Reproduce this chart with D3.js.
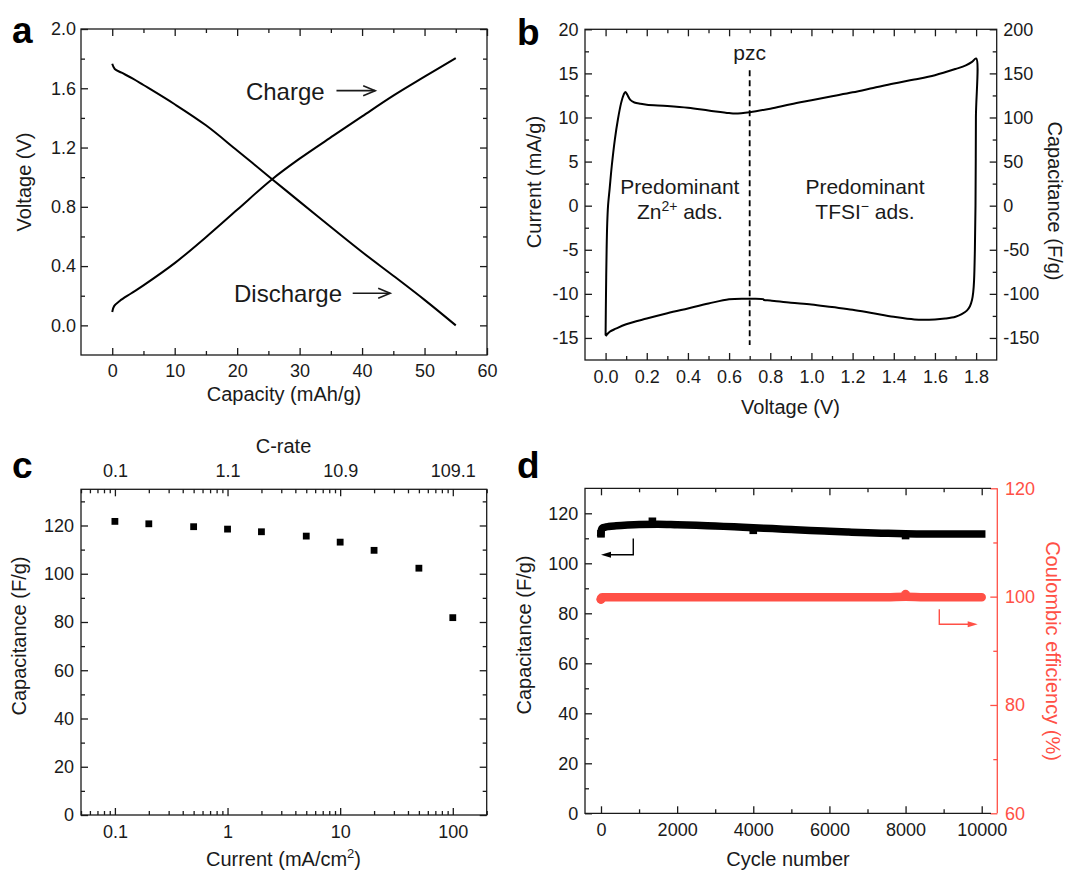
<!DOCTYPE html>
<html>
<head>
<meta charset="utf-8">
<script src="https://cdn.jsdelivr.net/npm/d3@7"></script>
<style>
  body { margin: 0; background: #fff; }
</style>
</head>
<body>
<svg id="fig" width="1065" height="870"></svg>
<script>
// ---- panel a : charge / discharge profile
const chargeCap = [0, 0.3, 1.2, 3, 5, 10, 15, 20, 25.5, 30, 35.4, 40, 45, 50, 55]
const chargeV = [0.09, 0.13, 0.165, 0.215, 0.27, 0.42, 0.595, 0.78, 0.983, 1.125, 1.28, 1.41, 1.55, 1.678, 1.804]
const dischargeCap = [0, 0.4, 1.5, 3.3, 5, 10, 15, 20, 25.5, 30, 35.4, 40, 45, 50, 55]
const dischargeV = [1.765, 1.73, 1.705, 1.665, 1.622, 1.492, 1.35, 1.18, 0.99, 0.835, 0.65, 0.495, 0.335, 0.172, 0.0]

// ---- panel b : cyclic voltammogram (anodic sweep then cathodic sweep)
const cvUpV = [0.000, 0.002, 0.005, 0.008, 0.012, 0.02, 0.03, 0.045, 0.06, 0.075, 0.088, 0.096, 0.105, 0.12, 0.14, 0.17, 0.2, 0.3, 0.4, 0.5, 0.6, 0.63, 0.7, 0.8, 0.9, 1.0, 1.1, 1.2, 1.3, 1.4, 1.5, 1.6, 1.7, 1.75, 1.78, 1.8]
const cvUpI = [-14.7, -10, -5, -2, 0, 2, 4.5, 7.5, 9.8, 11.6, 12.6, 12.9, 12.6, 12.0, 11.7, 11.55, 11.45, 11.3, 11.1, 10.8, 10.5, 10.45, 10.6, 11.0, 11.5, 11.95, 12.4, 12.85, 13.35, 13.85, 14.3, 14.8, 15.5, 15.9, 16.3, 16.7]
const cvDownV = [1.8, 1.799, 1.797, 1.794, 1.79, 1.786, 1.78, 1.77, 1.755, 1.73, 1.7, 1.65, 1.6, 1.5, 1.4, 1.3, 1.2, 1.1, 1.0, 0.9, 0.8, 0.77, 0.765, 0.7, 0.6, 0.5, 0.4, 0.3, 0.2, 0.1, 0.05, 0.02, 0.0]
const cvDownI = [16.7, 10, 0, -5, -8.5, -9.8, -10.7, -11.4, -11.9, -12.3, -12.6, -12.8, -12.9, -12.9, -12.6, -12.2, -11.8, -11.5, -11.2, -11.0, -10.75, -10.7, -10.6, -10.55, -10.6, -11.1, -11.65, -12.2, -12.8, -13.45, -13.95, -14.3, -14.8]

// ---- panel c : rate capability
const rateCurrent = [0.1, 0.2, 0.5, 1, 2, 5, 10, 20, 50, 100]
const rateCapacitance = [121.7, 120.7, 119.5, 118.5, 117.4, 115.6, 113.1, 109.7, 102.3, 81.8]
const cRateTicks = [0.1, 1, 10, 100]
const cRateLabels = ['0.1', '1.1', '10.9', '109.1']

// ---- panel d : cycling
const cycles = [0, 10, 30, 100, 200, 400, 700, 1000, 1500, 2000, 2500, 3000, 3500, 4000, 4500, 5000, 5500, 6000, 6500, 7000, 7500, 8000, 8500, 9000, 9500, 10000]
const cycleCapacitance = [112.2, 113.4, 114.0, 114.4, 114.7, 115.0, 115.3, 115.5, 115.6, 115.4, 115.2, 114.9, 114.6, 114.2, 113.9, 113.5, 113.1, 112.8, 112.5, 112.2, 112.0, 111.8, 111.7, 111.7, 111.7, 111.7]
const cycleEfficiency = [99.5, 99.8, 99.9, 99.9, 99.9, 99.9, 99.9, 99.9, 99.9, 99.9, 99.9, 99.9, 99.9, 99.9, 99.9, 99.9, 99.9, 99.9, 99.9, 99.9, 99.9, 100.0, 99.9, 99.9, 99.9, 99.9]
const capSpikeCycles = [0, 1350, 4000, 8000]
const capSpikeValues = [111.8, 116.8, 113.2, 111.1]
const ceSpikeCycles = [0, 8000]
const ceSpikeValues = [99.5, 100.4]

const FONT = '"Liberation Sans", Arial, Helvetica, sans-serif'
const INK = '#1a1a1a'
const RED = '#ff5046'

const svg = d3.select('#fig').style('font-family', FONT)

const range = (a, b, step) => d3.range(a, b + step / 2, step).map(v => +v.toFixed(4))
const noLabel = () => ''

// one side of a frame: inward major + minor ticks
const drawAxis = (orient, scale, pos, majors, minors, fmt, pad, color = INK) => {
    const make = { bottom: d3.axisBottom, top: d3.axisTop, left: d3.axisLeft, right: d3.axisRight }[orient]
    const tr = (orient === 'bottom' || orient === 'top') ? `translate(0,${pos})` : `translate(${pos},0)`
    const g = svg.append('g').attr('transform', tr)
    g.append('g').call(make(scale).tickValues(minors).tickSize(-4).tickSizeOuter(0).tickFormat(noLabel))
    g.append('g').call(make(scale).tickValues(majors).tickSize(-7).tickSizeOuter(0).tickPadding(pad).tickFormat(fmt))
    g.selectAll('.domain').remove()
    g.selectAll('g').attr('font-family', null).attr('font-size', null)
    g.selectAll('line').attr('stroke', color).attr('stroke-width', 1.3)
    g.selectAll('text').attr('fill', color).style('font-size', '18px').style('font-family', FONT)
    return g
}

const frame = (x0, x1, y0, y1) => {
    svg.append('rect')
       .attr('x', x0).attr('y', y0)
       .attr('width', x1 - x0).attr('height', y1 - y0)
       .attr('fill', 'none').attr('stroke', INK).attr('stroke-width', 1.3)
}

const title = (txt, x, y, rot = 0, color = INK) => {
    return svg.append('text')
              .attr('transform', `translate(${x},${y}) rotate(${rot})`)
              .attr('text-anchor', 'middle')
              .attr('fill', color)
              .style('font-size', '20px')
              .text(txt)
}

const panelLabel = (txt, x, y) => {
    svg.append('text').attr('x', x).attr('y', y)
       .style('font-size', '37px').style('font-weight', 'bold')
       .attr('fill', '#000').text(txt)
}

// open arrow "——>"
const openArrow = (x1, x2, y) => {
    const g = svg.append('g').attr('stroke', INK).attr('stroke-width', 1.6).attr('fill', 'none')
    g.append('line').attr('x1', x1).attr('x2', x2).attr('y1', y).attr('y2', y)
    g.append('polyline').attr('points', `${x2 - 12},${y - 5} ${x2},${y} ${x2 - 12},${y + 5}`)
}

// elbow arrow with filled head
const elbowArrow = (xv, yTop, yBot, xTip, color) => {
    const dir = xTip > xv ? 1 : -1
    svg.append('polyline')
       .attr('points', `${xv},${yTop} ${xv},${yBot} ${xTip - dir * 8},${yBot}`)
       .attr('fill', 'none').attr('stroke', color).attr('stroke-width', 1.4)
    svg.append('path')
       .attr('d', `M${xTip},${yBot} L${xTip - dir * 10},${yBot - 3} L${xTip - dir * 10},${yBot + 3} Z`)
       .attr('fill', color)
}

// ================= panel a
const xA = d3.scaleLinear().domain([-5, 60]).range([81, 487])
const yA = d3.scaleLinear().domain([-0.2, 2.0]).range([355, 29])

drawAxis('bottom', xA, 355, range(0, 60, 10), range(5, 55, 10), d => d, 9)
drawAxis('top', xA, 29, range(0, 60, 10), range(5, 55, 10), noLabel, 0)
drawAxis('left', yA, 81, range(0, 2.0, 0.4), range(0.2, 1.8, 0.4), d3.format('.1f'), 5)
drawAxis('right', yA, 487, range(0, 2.0, 0.4), range(0.2, 1.8, 0.4), noLabel, 0)
frame(81, 487, 29, 355)

const lineA = d3.line().x(d => xA(d[0])).y(d => yA(d[1])).curve(d3.curveCatmullRom.alpha(0.5))
svg.append('path').datum(d3.zip(chargeCap, chargeV)).attr('d', lineA)
   .attr('fill', 'none').attr('stroke', '#000').attr('stroke-width', 2)
svg.append('path').datum(d3.zip(dischargeCap, dischargeV)).attr('d', lineA)
   .attr('fill', 'none').attr('stroke', '#000').attr('stroke-width', 2)

svg.append('text').attr('x', xA(21.4)).attr('y', yA(1.522)).style('font-size', '24px').attr('fill', INK).text('Charge')
openArrow(xA(35.9), xA(42.1), yA(1.584))
svg.append('text').attr('x', xA(19.5)).attr('y', yA(0.161)).style('font-size', '24px').attr('fill', INK).text('Discharge')
openArrow(xA(38.5), xA(44.5), yA(0.217))

title('Capacity (mAh/g)', 284, 401)
title('Voltage (V)', 31, 182, -90)
panelLabel('a', 12, 43)

// ================= panel b
const xB = d3.scaleLinear().domain([-0.1, 1.9]).range([585, 996.7])
const yB = d3.scaleLinear().domain([-17.5, 20]).range([360, 29.3])
const yB2 = d3.scaleLinear().domain([-175, 200]).range([360, 29.3])

drawAxis('bottom', xB, 360, range(0, 1.8, 0.2), range(0.1, 1.7, 0.2), d3.format('.1f'), 10)
drawAxis('top', xB, 29.3, range(0, 1.8, 0.2), range(0.1, 1.7, 0.2), noLabel, 0)
drawAxis('left', yB, 585, range(-15, 20, 5), range(-12.5, 17.5, 5), d => d, 6.5)
drawAxis('right', yB2, 996.7, range(-150, 200, 50), range(-125, 175, 50), d => d, 6.5)
frame(585, 996.7, 29.3, 360)

const lineB = d3.line().x(d => xB(d[0])).y(d => yB(d[1])).curve(d3.curveCatmullRom.alpha(0.5))
svg.append('path')
   .datum(d3.zip(cvUpV, cvUpI).concat(d3.zip(cvDownV, cvDownI).slice(1)))
   .attr('d', lineB)
   .attr('fill', 'none').attr('stroke', '#000').attr('stroke-width', 2)

// point of zero charge
svg.append('line')
   .attr('x1', xB(0.7)).attr('x2', xB(0.7))
   .attr('y1', yB(15.35)).attr('y2', yB(-15.8))
   .attr('stroke', '#000').attr('stroke-width', 1.8).attr('stroke-dasharray', '6,4')
svg.append('text').attr('x', xB(0.7)).attr('y', yB(16.5)).attr('text-anchor', 'middle')
   .style('font-size', '21px').attr('fill', INK).text('pzc')

const noteB = (cx, y1, y2, main, sup, tail) => {
    svg.append('text').attr('x', cx).attr('y', y1).attr('text-anchor', 'middle')
       .style('font-size', '21px').attr('fill', INK).text('Predominant')
    const t = svg.append('text').attr('x', cx).attr('y', y2).attr('text-anchor', 'middle')
                 .style('font-size', '21px').attr('fill', INK)
    t.append('tspan').text(main)
    t.append('tspan').attr('dy', -8).style('font-size', '14px').text(sup)
    t.append('tspan').attr('dy', 8).text(tail)
}
noteB(xB(0.361), yB(1.3), yB(-1.53), 'Zn', '2+', ' ads.')
noteB(xB(1.26), yB(1.3), yB(-1.53), 'TFSI', '\u2212', ' ads.')

title('Voltage (V)', 790.5, 413.6)
title('Current (mA/g)', 541, 182, -90)
title('Capacitance (F/g)', 1048, 201, 90)
panelLabel('b', 517, 45)

// ================= panel c
const xC = d3.scaleLog().domain([0.05, 200]).range([81, 486.7])
const yC = d3.scaleLinear().domain([0, 135]).range([815, 489.3])
const logMinors = xC.ticks().filter(v => !cRateTicks.includes(v) && v >= 0.05 && v <= 200)

drawAxis('bottom', xC, 815, cRateTicks, logMinors, d => d, 10)
drawAxis('top', xC, 489.3, cRateTicks, logMinors, (d, i) => cRateLabels[i], 12)
drawAxis('left', yC, 81, range(0, 120, 20), range(10, 130, 20), d => d, 7)
drawAxis('right', yC, 486.7, range(0, 120, 20), range(10, 130, 20), noLabel, 0)
frame(81, 486.7, 489.3, 815)

svg.append('g').selectAll('rect')
   .data(d3.zip(rateCurrent, rateCapacitance))
   .enter()
   .append('rect')
   .attr('x', d => xC(d[0]) - 3.4)
   .attr('y', d => yC(d[1]) - 3.4)
   .attr('width', 6.8).attr('height', 6.8)
   .attr('fill', '#000')

title('C-rate', 283.5, 452.5)
const cx = title('', 283.5, 866)
cx.append('tspan').text('Current (mA/cm')
cx.append('tspan').attr('dy', -8).style('font-size', '13px').text('2')
cx.append('tspan').attr('dy', 8).text(')')
title('Capacitance (F/g)', 26, 636, -90)
panelLabel('c', 12, 478)

// ================= panel d
const xD = d3.scaleLinear().domain([-420, 10244]).range([585, 991])
const yD = d3.scaleLinear().domain([0, 130]).range([813.3, 488.3])
const yD2 = d3.scaleLinear().domain([60, 120]).range([813.3, 488.3])

drawAxis('bottom', xD, 813.3, range(0, 10000, 2000), range(1000, 9000, 2000), d => d, 10)
drawAxis('top', xD, 488.3, range(0, 10000, 2000), range(1000, 9000, 2000), noLabel, 0)
drawAxis('left', yD, 585, range(0, 120, 20), range(10, 110, 20), d => d, 6.7)
drawAxis('right', yD2, 997.3, range(60, 120, 20), range(70, 110, 20), d => d, 7.7, RED)

// black frame (open on the right), red right spine
svg.append('polyline')
   .attr('points', `991,488.3 585,488.3 585,813.3 991,813.3`)
   .attr('fill', 'none').attr('stroke', INK).attr('stroke-width', 1.3)
svg.append('line').attr('x1', 997.3).attr('x2', 997.3).attr('y1', 488.3).attr('y2', 813.3)
   .attr('stroke', RED).attr('stroke-width', 1.3)

const lineCap = d3.line().x(d => xD(d[0])).y(d => yD(d[1])).curve(d3.curveMonotoneX)
const lineCE = d3.line().x(d => xD(d[0])).y(d => yD2(d[1])).curve(d3.curveMonotoneX)

svg.append('path').datum(d3.zip(cycles, cycleEfficiency)).attr('d', lineCE)
   .attr('fill', 'none').attr('stroke', RED).attr('stroke-width', 8.5).attr('stroke-linecap', 'round')
svg.append('g').selectAll('circle')
   .data(d3.zip(ceSpikeCycles, ceSpikeValues))
   .enter()
   .append('circle')
   .attr('cx', d => xD(d[0])).attr('cy', d => yD2(d[1]))
   .attr('r', 4.6).attr('fill', RED)

svg.append('path').datum(d3.zip(cycles, cycleCapacitance)).attr('d', lineCap)
   .attr('fill', 'none').attr('stroke', '#000').attr('stroke-width', 7.5).attr('stroke-linecap', 'square')
svg.append('g').selectAll('rect')
   .data(d3.zip(capSpikeCycles, capSpikeValues))
   .enter()
   .append('rect')
   .attr('x', d => xD(d[0]) - 3.8).attr('y', d => yD(d[1]) - 3.8)
   .attr('width', 7.6).attr('height', 7.6).attr('fill', '#000')

elbowArrow(xD(848), yD(109.9), yD(103.4), xD(0), '#000')
elbowArrow(xD(8886), yD2(97.66), yD2(94.9), xD(9895), RED)

title('Cycle number', 788, 866)
title('Capacitance (F/g)', 530.5, 635, -90)
title('Coulombic efficiency (%)', 1046, 651, 90, RED)
panelLabel('d', 517, 478)
</script>
</body>
</html>
